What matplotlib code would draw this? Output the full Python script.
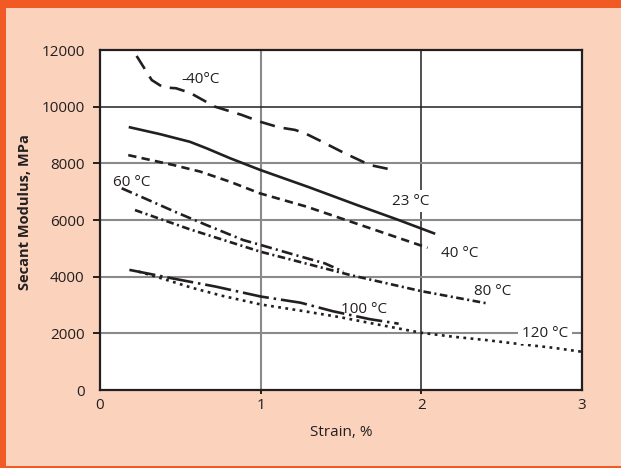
import matplotlib
matplotlib.use("Agg")
import matplotlib.pyplot as plt
from matplotlib.patches import Rectangle

plt.rcParams['font.family'] = ['Open Sans', 'DejaVu Sans']
plt.rcParams['lines.scale_dashes'] = False

# ---------------- data (strain %, secant modulus MPa) ----------------
x_m40 = [0.228, 0.280, 0.322, 0.394, 0.473, 0.560, 0.633, 0.716, 0.882, 0.996,
         1.115, 1.214, 1.277, 1.370, 1.526, 1.681, 1.806]
y_m40 = [11790, 11320, 10940, 10680, 10650, 10490, 10260, 10000, 9710, 9470,
         9270, 9180, 9060, 8800, 8350, 7940, 7790]

x_23 = [0.187, 0.374, 0.560, 0.664, 0.810, 1.001, 1.300, 1.600, 1.850, 2.080]
y_23 = [9270, 9030, 8760, 8530, 8180, 7760, 7160, 6530, 6020, 5530]

x_40 = [0.176, 0.457, 0.623, 0.810, 0.996, 1.287, 1.557, 2.040]
y_40 = [8290, 7940, 7710, 7350, 6940, 6470, 5950, 5020]

x_60 = [0.135, 0.280, 0.467, 0.664, 0.893, 1.000, 1.200, 1.400, 1.515]
y_60 = [7120, 6760, 6290, 5820, 5290, 5120, 4790, 4470, 4180]

x_80 = [0.218, 0.560, 1.000, 1.557, 2.000, 2.408]
y_80 = [6350, 5670, 4880, 4060, 3490, 3060]

x_100 = [0.183, 0.450, 0.720, 1.000, 1.250, 1.450, 1.680, 1.860]
y_100 = [4240, 3940, 3650, 3300, 3080, 2780, 2500, 2340]

x_120 = [0.239, 0.384, 0.571, 0.757, 1.000, 1.250, 1.495, 1.750, 2.000,
         2.200, 2.408, 2.616, 2.823, 3.000]
y_120 = [4180, 3940, 3610, 3330, 3020, 2800, 2570, 2290, 2020,
         1880, 1760, 1620, 1490, 1350]

series_labels = ['-40°C', '23 °C', '40 °C', '60 °C', '80 °C', '100 °C', '120 °C']

x_ticks = [0, 1, 2, 3]
y_ticks = [0, 2000, 4000, 6000, 8000, 10000, 12000]

# ---------------- style ----------------
INK = '#231f20'
GRAY = '#8a8a8a'
ORANGE = '#f15a24'
PEACH = '#fbd3bd'
W, H = 621, 468
FS = 11

fig = plt.figure(figsize=(W / 100, H / 100), dpi=100, facecolor=PEACH)
# orange frame pieces
fig.patches.append(Rectangle((0, 1 - 8 / H), 1, 8 / H, transform=fig.transFigure,
                             facecolor=ORANGE, edgecolor='none', zorder=0))
fig.patches.append(Rectangle((0, 0), 6 / W, 1, transform=fig.transFigure,
                             facecolor=ORANGE, edgecolor='none', zorder=0))
fig.patches.append(Rectangle((0, 0), 1, 2.5 / H, transform=fig.transFigure,
                             facecolor=ORANGE, edgecolor='none', zorder=0))

ax = fig.add_axes([100 / W, 78 / H, 481.7 / W, 340 / H])
ax.set_facecolor('white')
ax.set_xlim(0, 3)
ax.set_ylim(0, 12000)

# grid lines (some gray, some dark as in the original)
xgrid_col = {1: GRAY, 2: INK}
ygrid_col = {2000: GRAY, 4000: GRAY, 6000: GRAY, 8000: GRAY, 10000: INK}
for xv, c in xgrid_col.items():
    ax.axvline(xv, color=c, lw=1.5 if c == GRAY else 1.1, zorder=1)
for yv, c in ygrid_col.items():
    ax.axhline(yv, color=c, lw=1.5 if c == GRAY else 1.1, zorder=1)

# curves
lw = 1.9
ax.plot(x_m40, y_m40, color=INK, lw=lw, dashes=(11, 6.5), zorder=2)
ax.plot(x_23, y_23, color=INK, lw=lw, zorder=2)
ax.plot(x_40, y_40, color=INK, lw=lw, dashes=(6, 3.8), zorder=2)
ax.plot(x_60, y_60, color=INK, lw=lw, dashes=(8, 3, 1.5, 3), zorder=2)
ax.plot(x_80, y_80, color=INK, lw=lw, dashes=(5.5, 2.5, 1.5, 2.5), zorder=2)
ax.plot(x_100, y_100, color=INK, lw=lw, dashes=(19, 3.5, 1.8, 3.5), zorder=2)
ax.plot(x_120, y_120, color=INK, lw=lw, dashes=(2, 3.2), zorder=2)

# curve labels
lab_pos = [(0.629, 10825), (1.934, 6530), (2.238, 4700), (0.197, 7210),
           (2.443, 3350), (1.642, 2710), (2.771, 1880)]
white_bg = {1, 6}
for i, (lbl, (lx, ly)) in enumerate(zip(series_labels, lab_pos)):
    kw = {}
    if i in white_bg:
        kw['bbox'] = dict(facecolor='white', edgecolor='none', pad=2.5)
    ax.text(lx, ly, lbl, ha='center', va='baseline', fontsize=FS, color=INK,
            zorder=3, **kw)

# axes, ticks
for sp in ax.spines.values():
    sp.set_color(INK)
    sp.set_linewidth(1.6)
    sp.set_zorder(4)

ax.set_xticks(x_ticks)
ax.set_yticks(y_ticks)
ax.set_xticklabels([str(v) for v in x_ticks])
ax.set_yticklabels([str(v) for v in y_ticks])
ax.tick_params(axis='x', length=3, width=1.2, pad=3, labelsize=FS, labelcolor=INK)
ax.tick_params(axis='y', length=5, width=1.2, pad=6, labelsize=FS, labelcolor=INK)

for t, v in zip(ax.xaxis.get_major_ticks(), x_ticks):
    if v in xgrid_col:
        t.tick1line.set_color(xgrid_col[v])
    else:
        t.tick1line.set_visible(False)
for t, v in zip(ax.yaxis.get_major_ticks(), y_ticks):
    if v in ygrid_col:
        t.tick1line.set_color(ygrid_col[v])
    else:
        t.tick1line.set_visible(False)

ax.set_xlabel('Strain, %', fontsize=FS, color=INK)
ax.xaxis.set_label_coords(0.5, (390 - 432) / 340)
ax.xaxis.label.set_va('center')

ax.set_ylabel('Secant Modulus, MPa', fontsize=10.5, fontweight='bold', color=INK)
ax.yaxis.set_label_coords((25 - 100) / 481.7, (390 - 212) / 340)
ax.yaxis.label.set_va('center')
ax.yaxis.label.set_ha('center')

fig.savefig('out.png', dpi=100, facecolor=PEACH)
